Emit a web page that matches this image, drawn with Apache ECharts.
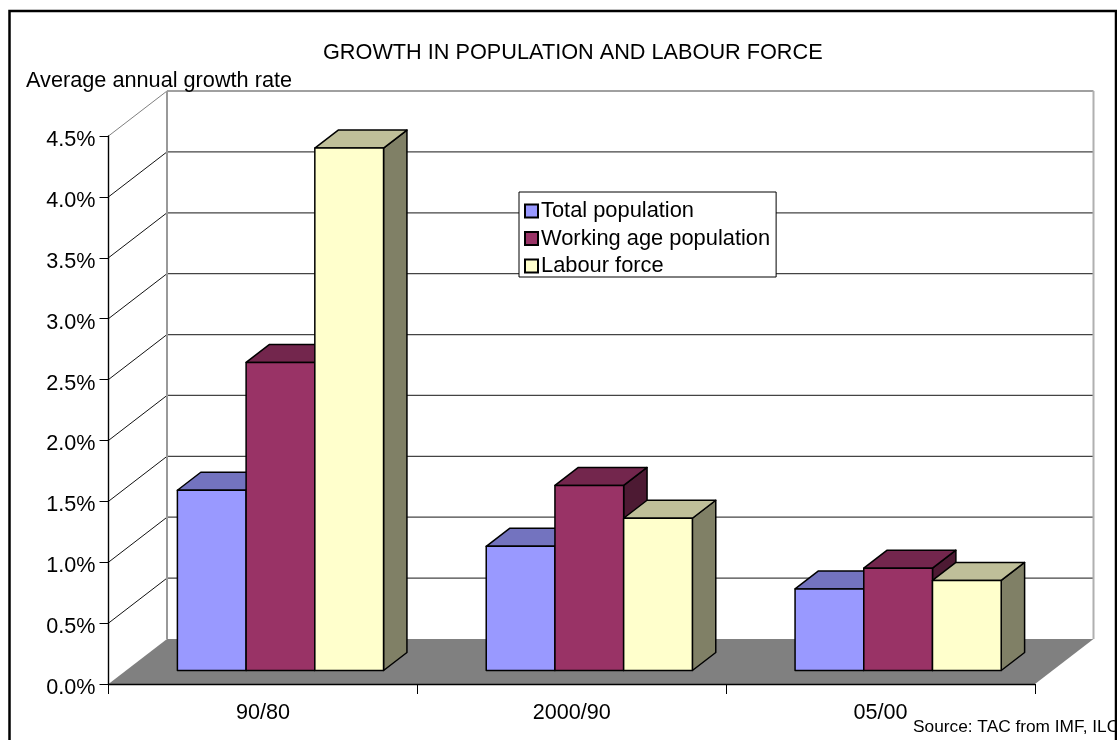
<!DOCTYPE html>
<html><head><meta charset="utf-8">
<style>html,body{margin:0;padding:0;background:#fff}#c{width:1117px;height:740px}</style>
<script src="https://cdn.jsdelivr.net/npm/echarts@6/dist/echarts.min.js"></script>
</head><body><div id="c"></div>
<script>
const categories = ['90/80', '2000/90', '05/00'];
const totalPopulation = [1.48, 1.02, 0.67];
const workingAgePopulation = [2.53, 1.52, 0.84];
const labourForce = [4.29, 1.25, 0.74];
const valueTicks = [0.5, 1, 1.5, 2, 2.5, 3, 3.5, 4, 4.5];

const FONT = '"Liberation Sans", Arial, sans-serif';
// oblique projection of the depth axis, in pixels
const WALL_DX = 58.5, WALL_DY = -45;
const BAR_START = 0.3, BAR_DEPTH = 0.4;
const BAR_FRAC = 0.2225;

function shade(rgb, k) { return 'rgb(' + rgb.map(c => Math.round(c * k)).join(',') + ')'; }

function barSeries(name, values, rgb, slot) {
  return {
    name, type: 'custom', z: 4,
    itemStyle: { color: shade(rgb, 1), borderColor: '#000', borderWidth: 1 },
    data: values.map((v, i) => [i, v]),
    renderItem(params, api) {
      const c0 = api.coord([api.value(0), 0]);
      const c1 = api.coord([api.value(0), api.value(1)]);
      const w = api.size([1, 0])[0] * BAR_FRAC;
      const ox = WALL_DX * BAR_START, oy = WALL_DY * BAR_START;
      const dx = WALL_DX * BAR_DEPTH, dy = WALL_DY * BAR_DEPTH;
      const x0 = c0[0] + ox + (slot - 1.5) * w, x1 = x0 + w;
      const yB = c0[1] + oy, yT = c1[1] + oy;
      const st = { stroke: '#000', lineWidth: 1.5, lineJoin: 'round' };
      return { type: 'group', children: [
        { type: 'polygon', shape: { points: [[x1, yB], [x1 + dx, yB + dy], [x1 + dx, yT + dy], [x1, yT]] },
          style: { fill: shade(rgb, 0.5), ...st } },
        { type: 'polygon', shape: { points: [[x0, yT], [x1, yT], [x1 + dx, yT + dy], [x0 + dx, yT + dy]] },
          style: { fill: shade(rgb, 0.75), ...st } },
        { type: 'rect', shape: { x: x0, y: yT, width: w, height: yB - yT },
          style: { fill: shade(rgb, 1), ...st } }
      ] };
    }
  };
}

const wallSeries = {
  type: 'custom', z: 1, silent: true, legendHoverLink: false,
  data: valueTicks.map(v => [0, v]),
  renderItem(params, api) {
    const half = api.size([1, 0])[0] / 2;
    const p = api.coord([0, api.value(1)]);
    const lastX = api.coord([categories.length - 1, 0])[0] + half;
    const x0 = p[0] - half, y = p[1];
    const top = api.value(1) === valueTicks[valueTicks.length - 1];
    return { type: 'group', children: [
      { type: 'line', shape: { x1: x0, y1: y, x2: x0 + WALL_DX, y2: y + WALL_DY }, style: { stroke: top ? '#808080' : '#111', lineWidth: 1 } },
      { type: 'line', shape: { x1: x0 + WALL_DX, y1: y + WALL_DY, x2: lastX + WALL_DX, y2: y + WALL_DY }, style: { stroke: top ? '#808080' : '#444', lineWidth: 1.3 } }
    ] };
  }
};

const floorSeries = {
  type: 'custom', z: 2, silent: true, legendHoverLink: false,
  data: [[0, 0]],
  renderItem(params, api) {
    const half = api.size([1, 0])[0] / 2;
    const p = api.coord([0, 0]);
    const t = api.coord([0, valueTicks[valueTicks.length - 1]]);
    const lastX = api.coord([categories.length - 1, 0])[0] + half;
    const x0 = p[0] - half, y = p[1];
    const bl = x0 + WALL_DX, br = lastX + WALL_DX, by = y + WALL_DY, ty = t[1] + WALL_DY;
    return { type: 'group', children: [
      { type: 'line', shape: { x1: bl, y1: by, x2: bl, y2: ty }, style: { stroke: '#999', lineWidth: 2 } },
      { type: 'line', shape: { x1: br, y1: by, x2: br, y2: ty }, style: { stroke: '#b0b0b0', lineWidth: 2 } },
      { type: 'polygon', shape: { points: [[x0, y], [lastX, y], [br, by], [bl, by]] }, style: { fill: '#808080', stroke: 'none' } }
    ] };
  }
};

const chart = echarts.init(document.getElementById('c'));
chart.setOption({
  animation: false,
  backgroundColor: '#fff',
  textStyle: { fontFamily: FONT, color: '#000' },
  title: [
    { text: 'GROWTH IN POPULATION AND LABOUR FORCE', left: 323, top: 42, padding: 0,
      textStyle: { fontFamily: FONT, fontSize: 21.7, fontWeight: 'normal', color: '#000' } },
    { text: 'Average annual growth rate', left: 26, top: 70, padding: 0,
      textStyle: { fontFamily: FONT, fontSize: 21.7, fontWeight: 'normal', color: '#000' } }
  ],
  grid: { left: 108.5, right: 82, top: 136, bottom: 56, containLabel: false },
  xAxis: {
    type: 'category', data: categories, z: 6,
    axisLine: { lineStyle: { color: '#000', width: 1.4 } },
    axisTick: { show: true, length: 10, lineStyle: { color: '#000', width: 1 } },
    axisLabel: { fontFamily: FONT, fontSize: 21.6, color: '#000', margin: 18 },
    splitLine: { show: false }
  },
  yAxis: {
    type: 'value', min: 0, max: 4.5, interval: 0.5, z: 6,
    axisLine: { show: true, lineStyle: { color: '#000', width: 1.4 } },
    axisTick: { show: true, length: 9, lineStyle: { color: '#000', width: 1 } },
    axisLabel: { fontFamily: FONT, fontSize: 21.6, color: '#000', margin: 13, verticalAlign: 'top', lineHeight: 8,
      formatter: v => v.toFixed(1) + '%' },
    splitLine: { show: false }
  },
  legend: {
    left: 519, top: 192, orient: 'vertical', backgroundColor: '#fff', icon: 'rect',
    borderColor: '#000', borderWidth: 1, padding: [8, 6, 0, 5], itemGap: 5.5, itemWidth: 13, itemHeight: 13,
    data: ['Total population', 'Working age population', 'Labour force'],
    selectedMode: false, z: 10,
    textStyle: { fontFamily: FONT, fontSize: 21.85, color: '#000', padding: [0, 0, 0, -2] }
  },
  series: [
    wallSeries, floorSeries,
    barSeries('Total population', totalPopulation, [153, 153, 255], 0),
    barSeries('Working age population', workingAgePopulation, [153, 51, 102], 1),
    barSeries('Labour force', labourForce, [255, 255, 204], 2)
  ],
  graphic: [
    { type: 'text', z: 20, x: 913, y: 719, style: { text: 'Source: TAC from IMF, ILO', fontFamily: FONT, fontSize: 17.3, fill: '#000' } },
    { type: 'polyline', z: 30, shape: { points: [[9.5, 740], [9.5, 11], [1116, 11], [1116, 740]] },
      style: { stroke: '#000', lineWidth: 2.5, fill: 'none' } }
  ]
});
</script></body></html>
